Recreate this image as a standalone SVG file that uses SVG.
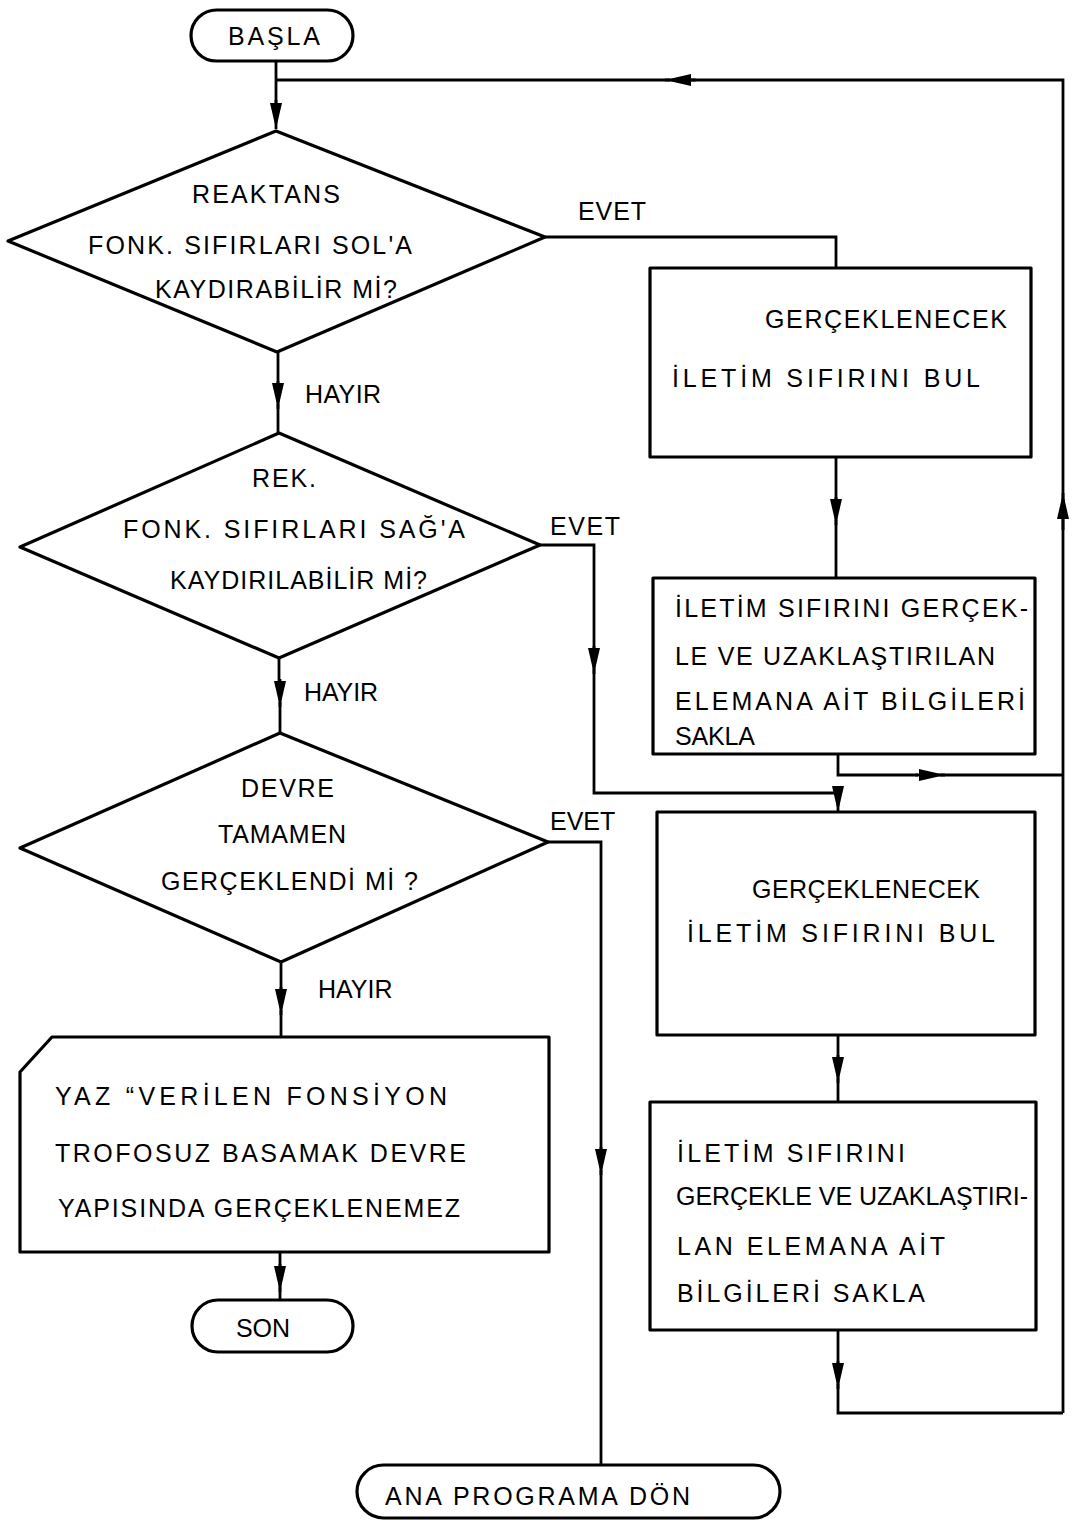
<svg xmlns="http://www.w3.org/2000/svg" width="1072" height="1520" viewBox="0 0 1072 1520">
<defs>
<marker id="ah" viewBox="0 0 26 12" refX="26" refY="6" markerWidth="26" markerHeight="12" markerUnits="userSpaceOnUse" orient="auto">
<path d="M0,0 L26,6 L0,12 Z" fill="#000"/>
</marker>
<style>
.shape{fill:#fff;stroke:#000;stroke-width:3.2;stroke-linejoin:round}
.ln{fill:none;stroke:#000;stroke-width:2.8;stroke-linejoin:miter}
.arr{fill:none;stroke:#000;stroke-width:2.8;marker-end:url(#ah)}
text{font-family:"Liberation Sans","DejaVu Sans",Arial,sans-serif;font-size:25px;fill:#000}
</style>
</defs>
<rect width="1072" height="1520" fill="#fff"/>

<g id="connectors">
<path class="ln" d="M276,61 V104"/>
<path class="arr" d="M276,100 V129"/>
<path class="ln" d="M1063,1413 V80 H690"/>
<path class="arr" d="M696,80 H665"/>
<path class="ln" d="M670,80 H276"/>
<path class="arr" d="M1063,530 V493"/>
<path class="ln" d="M545,237 H836 V268"/>
<path class="ln" d="M836,457 V500"/>
<path class="arr" d="M836,497 V525"/>
<path class="ln" d="M836,520 V578"/>
<path class="ln" d="M838,754 V775 H918"/>
<path class="arr" d="M915,775 H945"/>
<path class="ln" d="M940,775 H1063"/>
<path class="ln" d="M278,352 V384"/>
<path class="arr" d="M278,381 V409"/>
<path class="ln" d="M278,404 V433"/>
<path class="ln" d="M540,545 H594 V650"/>
<path class="arr" d="M594,646 V674"/>
<path class="ln" d="M594,669 V793 H838"/>
<path class="arr" d="M838,791 V812"/>
<path class="ln" d="M279,658 V682"/>
<path class="arr" d="M280,679 V707"/>
<path class="ln" d="M280,702 V733"/>
<path class="ln" d="M548,842 H601 V1150"/>
<path class="arr" d="M601,1147 V1175"/>
<path class="ln" d="M601,1170 V1465"/>
<path class="ln" d="M281,962 V990"/>
<path class="arr" d="M281,987 V1015"/>
<path class="ln" d="M281,1010 V1037"/>
<path class="ln" d="M280,1252 V1266"/>
<path class="arr" d="M280,1264 V1292"/>
<path class="ln" d="M280,1287 V1300"/>
<path class="ln" d="M838,1035 V1058"/>
<path class="arr" d="M838,1055 V1083"/>
<path class="ln" d="M838,1078 V1102"/>
<path class="ln" d="M838,1330 V1364"/>
<path class="arr" d="M838,1361 V1389"/>
<path class="ln" d="M838,1384 V1413 H1063"/>
</g>

<g id="start">
<rect class="shape" x="191" y="10" width="162" height="51" rx="25.5"/>
<text x="228" y="45" textLength="92" lengthAdjust="spacing">BAŞLA</text>
</g>

<g id="decision1">
<polygon class="shape" points="276,131 545,237 277,352 8,241"/>
<text x="192" y="203" textLength="148" lengthAdjust="spacing">REAKTANS</text>
<text x="88" y="254" textLength="324" lengthAdjust="spacing">FONK. SIFIRLARI SOL'A</text>
<text x="155" y="298" textLength="242" lengthAdjust="spacing">KAYDIRABİLİR Mİ?</text>
<text x="578" y="220" textLength="68" lengthAdjust="spacing">EVET</text>
<text x="305" y="403" textLength="76" lengthAdjust="spacing">HAYIR</text>
</g>

<g id="box1">
<rect class="shape" x="650" y="268" width="381" height="189"/>
<text x="765" y="328" textLength="242" lengthAdjust="spacing">GERÇEKLENECEK</text>
<text x="672" y="387" textLength="308" lengthAdjust="spacing">İLETİM SIFIRINI BUL</text>
</g>

<g id="box2">
<rect class="shape" x="653" y="578" width="382" height="176"/>
<text x="675" y="617" textLength="353" lengthAdjust="spacing">İLETİM SIFIRINI GERÇEK-</text>
<text x="675" y="665" textLength="320" lengthAdjust="spacing">LE VE UZAKLAŞTIRILAN</text>
<text x="675" y="710" textLength="350" lengthAdjust="spacing">ELEMANA AİT BİLGİLERİ</text>
<text x="675" y="745" textLength="80" lengthAdjust="spacing">SAKLA</text>
</g>

<g id="decision2">
<polygon class="shape" points="279,433 540,545 279,658 20,547"/>
<text x="252" y="487" textLength="64" lengthAdjust="spacing">REK.</text>
<text x="123" y="538" textLength="342" lengthAdjust="spacing">FONK. SIFIRLARI SAĞ'A</text>
<text x="170" y="589" textLength="257" lengthAdjust="spacing">KAYDIRILABİLİR Mİ?</text>
<text x="550" y="535" textLength="70" lengthAdjust="spacing">EVET</text>
<text x="304" y="701" textLength="74" lengthAdjust="spacing">HAYIR</text>
</g>

<g id="decision3">
<polygon class="shape" points="280,733 548,842 281,962 20,848"/>
<text x="241" y="797" textLength="93" lengthAdjust="spacing">DEVRE</text>
<text x="218" y="843" textLength="128" lengthAdjust="spacing">TAMAMEN</text>
<text x="161" y="890" textLength="257" lengthAdjust="spacing">GERÇEKLENDİ Mİ ?</text>
<text x="550" y="830">EVET</text>
<text x="318" y="998">HAYIR</text>
</g>

<g id="box3">
<rect class="shape" x="657" y="812" width="378" height="223"/>
<text x="752" y="898" textLength="228" lengthAdjust="spacing">GERÇEKLENECEK</text>
<text x="687" y="942" textLength="308" lengthAdjust="spacing">İLETİM SIFIRINI BUL</text>
</g>

<g id="output">
<path class="shape" d="M20,1072 L52,1037 L549,1037 L549,1252 L20,1252 Z"/>
<text x="55" y="1105" textLength="392" lengthAdjust="spacing">YAZ “VERİLEN FONSİYON</text>
<text x="55" y="1162" textLength="411" lengthAdjust="spacing">TROFOSUZ BASAMAK DEVRE</text>
<text x="58" y="1217" textLength="402" lengthAdjust="spacing">YAPISINDA GERÇEKLENEMEZ</text>
</g>

<g id="box4">
<rect class="shape" x="650" y="1102" width="386" height="228"/>
<text x="677" y="1162" textLength="228" lengthAdjust="spacing">İLETİM SIFIRINI</text>
<text x="676" y="1205" textLength="352" lengthAdjust="spacing">GERÇEKLE VE UZAKLAŞTIRI-</text>
<text x="677" y="1255" textLength="268" lengthAdjust="spacing">LAN ELEMANA AİT</text>
<text x="677" y="1302" textLength="248" lengthAdjust="spacing">BİLGİLERİ SAKLA</text>
</g>

<g id="end">
<rect class="shape" x="192" y="1300" width="161" height="52" rx="26"/>
<text x="263" y="1337" text-anchor="middle">SON</text>
</g>

<g id="return">
<rect class="shape" x="357" y="1465" width="423" height="53" rx="26.5"/>
<text x="385" y="1505" textLength="305" lengthAdjust="spacing">ANA PROGRAMA DÖN</text>
</g>
</svg>
